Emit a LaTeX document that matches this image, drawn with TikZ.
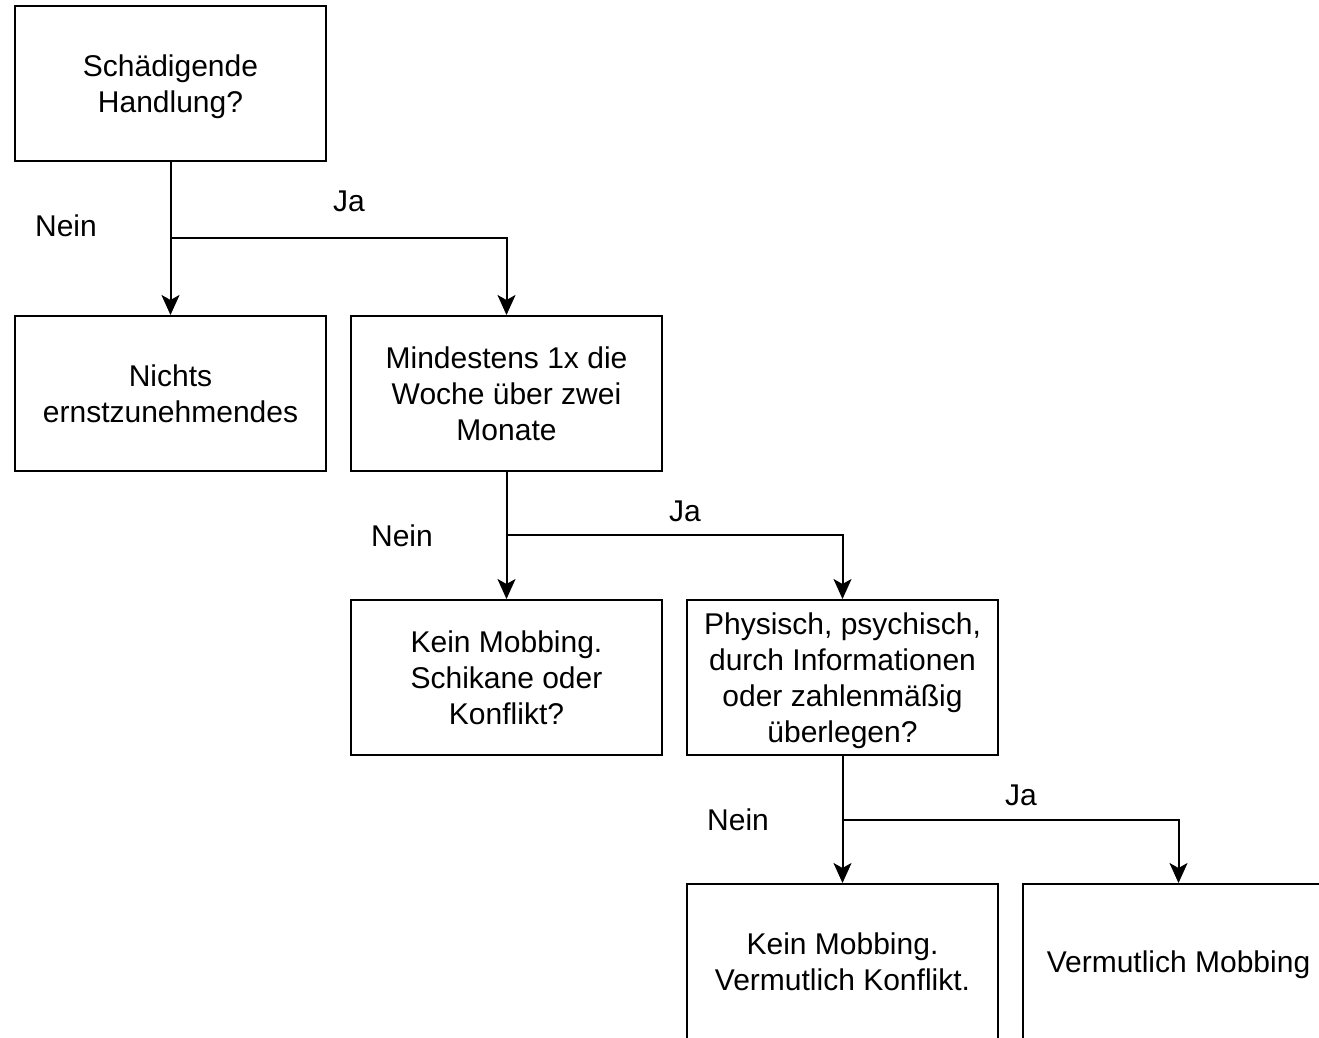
\documentclass[tikz,border=0pt]{standalone}
\usepackage{fontspec}
\setmainfont{Liberation Sans}
\usetikzlibrary{arrows.meta}
\newcommand\topst{\rule{0pt}{30pt}}
\begin{document}
\begin{tikzpicture}[x=1pt,y=-1pt,
 box/.style={draw, line width=2pt, minimum width=311pt, minimum height=155pt, align=center, inner sep=0pt, font=\fontsize{30}{36}\selectfont,
   execute at end node={\rule[-8pt]{0pt}{8pt}}},
 lbl/.style={font=\fontsize{30}{36}\selectfont, inner sep=0pt},
 conn/.style={line width=2pt},
 arr/.style={conn, -{Stealth[length=20pt,width=18pt,inset=5pt]}}]
\useasboundingbox (0,0) rectangle (1319,1037);
\clip (0,0) rectangle (1319,1037);
\fill[white] (0,0) rectangle (1319,1037);
\node[box] (b1) at (170.5,83.5) {\topst Schädigende\\Handlung?};
\node[box] (b2) at (170.5,393.5) {\topst Nichts\\ernstzunehmendes};
\node[box] (b3) at (506.5,393.5) {\topst Mindestens 1x die\\Woche über zwei\\Monate};
\node[box] (b4) at (506.5,677.5) {\topst Kein Mobbing.\\Schikane oder\\Konflikt?};
\node[box] (b5) at (842.5,677.5) {\topst Physisch, psychisch,\\durch Informationen\\oder zahlenmäßig\\überlegen?};
\node[box] (b6) at (842.5,961.5) {\topst Kein Mobbing.\\Vermutlich Konflikt.};
\node[box] (b7) at (1178.5,961.5) {\topst Vermutlich Mobbing};
\coordinate (j1) at (b1.south |- 0,238);
\coordinate (j2) at (b3.south |- 0,535);
\coordinate (j3) at (b5.south |- 0,820);
\draw[conn] (b1.south) -- (j1);
\draw[arr] (j1) -- (b2.north);
\draw[arr] (j1) -| (b3.north);
\draw[conn] (b3.south) -- (j2);
\draw[arr] (j2) -- (b4.north);
\draw[arr] (j2) -| (b5.north);
\draw[conn] (b5.south) -- (j3);
\draw[arr] (j3) -- (b6.north);
\draw[arr] (j3) -| (b7.north);
\node[lbl] (n1) at (66,226) {Nein};
\node[lbl] (y1) at (349,201) {Ja};
\node[lbl] (n2) at (402,536) {Nein};
\node[lbl] (y2) at (685,511) {Ja};
\node[lbl] (n3) at (738,820) {Nein};
\node[lbl] (y3) at (1021,795) {Ja};
\end{tikzpicture}
\end{document}
